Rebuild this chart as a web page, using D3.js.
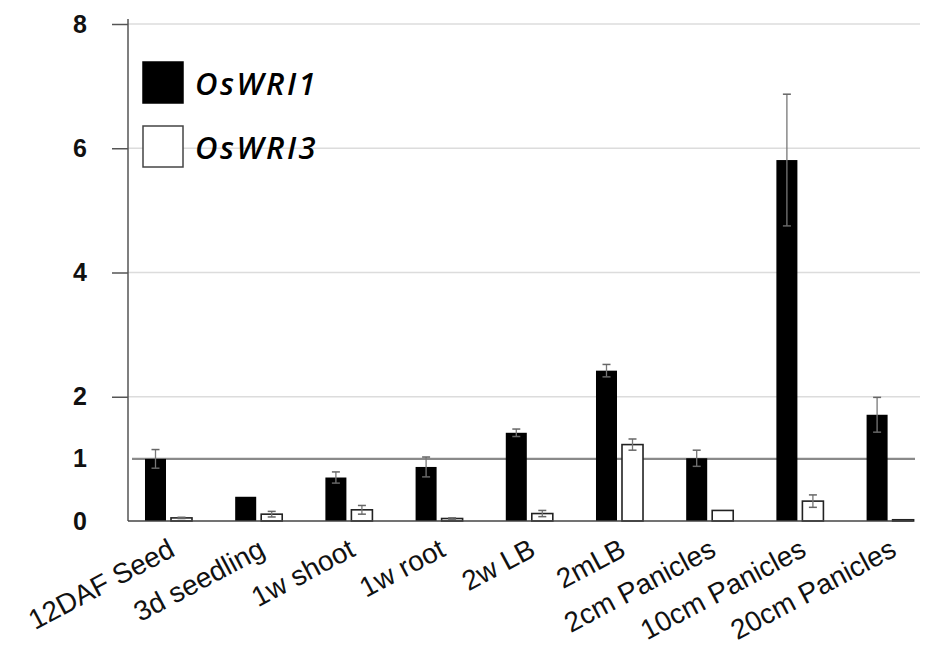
<!DOCTYPE html>
<html>
<head>
<meta charset="utf-8">
<script src="https://cdn.jsdelivr.net/npm/d3@7"></script>
<style>
  html, body { margin: 0; padding: 0; background: #fff; }
  svg { display: block; }
</style>
</head>
<body>
<svg id="chart" width="925" height="654"></svg>
<script>
const categories = ["12DAF Seed", "3d seedling", "1w shoot", "1w root", "2w LB", "2mLB", "2cm Panicles", "10cm Panicles", "20cm Panicles"];
const series = ["OsWRI1", "OsWRI3"];
const wri1Values = [1.00, 0.39, 0.70, 0.87, 1.42, 2.42, 1.01, 5.81, 1.71];
const wri1Errors = [0.15, 0.00, 0.09, 0.16, 0.06, 0.10, 0.13, 1.06, 0.28];
const wri3Values = [0.05, 0.11, 0.18, 0.04, 0.12, 1.23, 0.17, 0.32, 0.02];
const wri3Errors = [0.01, 0.045, 0.07, 0.01, 0.05, 0.09, 0.00, 0.10, 0.00];
const yTickValues = [0, 1, 2, 4, 6, 8];
const gridValues = [2, 4, 6, 8];
const referenceValue = 1;

const svg = d3.select("#chart");
const axisX = 128, baseY = 521;

const y = d3.scaleLinear().domain([0, 8]).range([baseY, 24]);
const x0 = d3.scaleBand().domain(categories).range([123.4, 935.2]).paddingInner(0).paddingOuter(0);
const x1 = d3.scaleBand().domain(series).range([0, x0.bandwidth()]).paddingInner(0.192).paddingOuter(0.83);

// grid lines
svg.append("g").selectAll("line").data(gridValues).join("line")
  .attr("x1", axisX).attr("x2", 920)
  .attr("y1", d => y(d)).attr("y2", d => y(d))
  .attr("stroke", "#dcdcdc").attr("stroke-width", 1.5);

// y axis
const yAxis = d3.axisLeft(y).tickValues(yTickValues).tickSize(16).tickPadding(25).tickFormat(d3.format("d"));
const gy = svg.append("g").attr("transform", `translate(${axisX},0)`).call(yAxis);
gy.select(".domain").remove();
gy.selectAll(".tick line").attr("stroke", "#555").attr("stroke-width", 1.5)
  .style("display", d => (d < 2 ? "none" : null));
gy.selectAll(".tick text")
  .attr("font-family", "Liberation Sans, Arial, sans-serif")
  .attr("font-weight", "bold").attr("font-size", 25).attr("fill", "#111");
svg.append("line").attr("x1", axisX).attr("x2", axisX).attr("y1", 19).attr("y2", baseY)
  .attr("stroke", "#555").attr("stroke-width", 1.5);

// reference line at 1
svg.append("line").attr("x1", 132).attr("x2", 915)
  .attr("y1", y(referenceValue)).attr("y2", y(referenceValue))
  .attr("stroke", "#8a8a8a").attr("stroke-width", 2.2);

// data rows
const rows = categories.map((c, i) => ({
  cat: c,
  bars: [
    { key: "OsWRI1", v: wri1Values[i], e: wri1Errors[i] },
    { key: "OsWRI3", v: wri3Values[i], e: wri3Errors[i] }
  ]
}));

const groups = svg.append("g").selectAll("g").data(rows).join("g")
  .attr("transform", d => `translate(${x0(d.cat)},0)`);

groups.selectAll("rect").data(d => d.bars).join("rect")
  .attr("x", d => x1(d.key))
  .attr("y", d => y(d.v))
  .attr("width", x1.bandwidth())
  .attr("height", d => y(0) - y(d.v))
  .attr("fill", d => d.key === "OsWRI1" ? "#000" : "#fff")
  .attr("stroke", d => d.key === "OsWRI1" ? "#000" : "#222")
  .attr("stroke-width", d => d.key === "OsWRI1" ? 0 : 1.6);

// error bars
const eb = groups.selectAll("g.err").data(d => d.bars.filter(b => b.e > 0)).join("g").attr("class", "err");
const cx = d => x1(d.key) + x1.bandwidth() / 2;
eb.append("line")
  .attr("x1", cx).attr("x2", cx)
  .attr("y1", d => y(d.v + d.e)).attr("y2", d => y(Math.max(0, d.v - d.e)))
  .attr("stroke", "#777").attr("stroke-width", 1.3);
eb.append("line")
  .attr("x1", d => cx(d) - 4).attr("x2", d => cx(d) + 4)
  .attr("y1", d => y(d.v + d.e)).attr("y2", d => y(d.v + d.e))
  .attr("stroke", "#666").attr("stroke-width", 1.5);
eb.append("line")
  .attr("x1", d => cx(d) - 4).attr("x2", d => cx(d) + 4)
  .attr("y1", d => y(Math.max(0, d.v - d.e))).attr("y2", d => y(Math.max(0, d.v - d.e)))
  .attr("stroke", "#666").attr("stroke-width", 1.5);

// x axis baseline
svg.append("line").attr("x1", axisX).attr("x2", 913).attr("y1", baseY).attr("y2", baseY)
  .attr("stroke", "#444").attr("stroke-width", 1.6);

// x labels
svg.append("g").selectAll("text").data(categories).join("text")
  .attr("transform", d => `translate(${x0(d) + x0.bandwidth() / 2 + 8},${555}) rotate(-28)`)
  .attr("text-anchor", "end")
  .attr("font-family", "Liberation Sans, Arial, sans-serif")
  .attr("font-size", 28).attr("fill", "#111")
  .text(d => d);

// legend
const legend = svg.append("g");
const legendItems = [
  { name: series[0], fill: "#000", y: 62 },
  { name: series[1], fill: "#fff", y: 126 }
];
legend.selectAll("rect").data(legendItems).join("rect")
  .attr("x", 143).attr("y", d => d.y).attr("width", 40).attr("height", 41)
  .attr("fill", d => d.fill).attr("stroke", d => d.fill === "#000" ? "#000" : "#444").attr("stroke-width", 1.5);
legend.selectAll("text").data(legendItems).join("text")
  .attr("x", 195).attr("y", d => d.y + 33)
  .attr("font-family", "Open Sans, sans-serif").attr("font-style", "italic").attr("font-weight", 600)
  .attr("font-size", 31).attr("letter-spacing", 2.5).attr("fill", "#000")
  .text(d => d.name);
</script>
</body>
</html>
